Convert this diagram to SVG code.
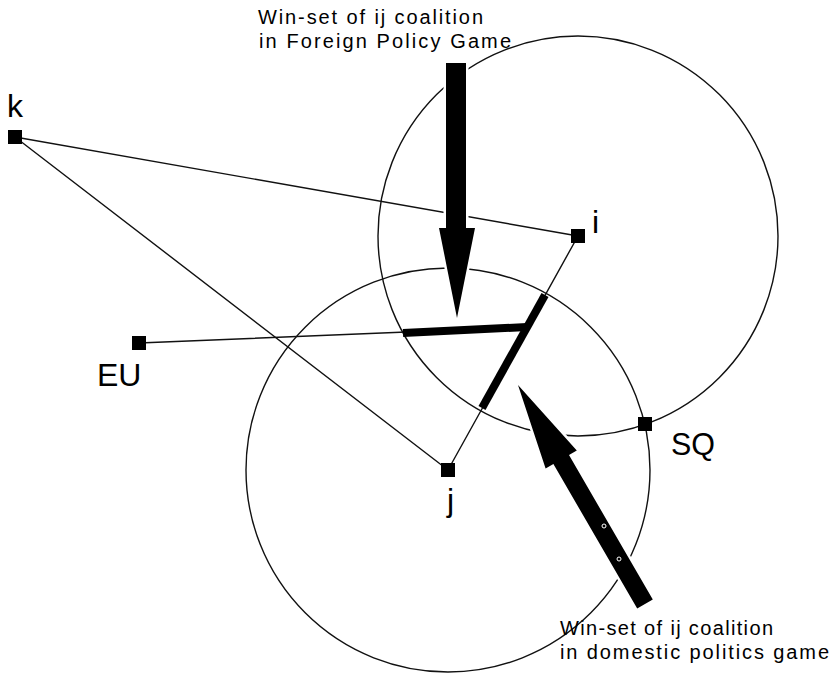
<svg xmlns="http://www.w3.org/2000/svg" width="839" height="673" viewBox="0 0 839 673">
<style>
.bg{fill:#fff}
.circ{fill:none;stroke:#111;stroke-width:1.4}
.thin{fill:none;stroke:#111;stroke-width:1.4;stroke-linecap:round}
.thick{fill:none;stroke:#000;stroke-width:8;stroke-linecap:butt}
.pt{fill:#000}
.lbl{font-family:"Liberation Sans",Arial,sans-serif;font-size:32px;fill:#000}
.note{font-family:"Liberation Sans",Arial,sans-serif;font-size:20px;fill:#000}
.arrow{fill:#000;stroke:#fff;stroke-width:5;paint-order:stroke;stroke-linejoin:miter}
.hole{fill:none;stroke:#fff;stroke-width:1}
</style>
<rect class="bg" x="0" y="0" width="839" height="673"/>
<g id="winsets">
<circle class="circ" cx="578" cy="236" r="200"/>
<circle class="circ" cx="448" cy="470" r="202"/>
</g>
<g id="connectors">
<line class="thin" x1="15" y1="137" x2="578" y2="236"/>
<line class="thin" x1="15" y1="137" x2="448" y2="470"/>
<line class="thin" x1="578" y1="236" x2="448" y2="470"/>
<line class="thin" x1="139" y1="343" x2="527" y2="327"/>
<line class="thick" x1="403" y1="333" x2="527" y2="327"/>
<line class="thick" x1="545" y1="295" x2="482" y2="408"/>
</g>
<g id="node-k">
<rect class="pt" x="8" y="130" width="14" height="14"/>
<text class="lbl" x="7" y="117">k</text>
</g>
<g id="node-i">
<rect class="pt" x="571" y="229" width="14" height="14"/>
<text class="lbl" x="592" y="233">i</text>
</g>
<g id="node-EU">
<rect class="pt" x="132" y="336" width="14" height="14"/>
<text class="lbl" x="97" y="386">EU</text>
</g>
<g id="node-j">
<rect class="pt" x="441" y="463" width="14" height="14"/>
<text class="lbl" x="447" y="511">j</text>
</g>
<g id="node-SQ">
<rect class="pt" x="638" y="417" width="14" height="14"/>
<text class="lbl" x="671" y="455" textLength="44" lengthAdjust="spacingAndGlyphs">SQ</text>
</g>
<g id="arrow-foreign">
<polygon class="arrow" points="446,63 466,63 466,228 475,228 457,318 439,228 446,228"/>
<text class="note" x="258" y="24" textLength="225" lengthAdjust="spacing">Win-set of ij coalition</text>
<text class="note" x="259" y="48" textLength="252" lengthAdjust="spacing">in Foreign Policy Game</text>
</g>
<g id="arrow-domestic">
<polygon class="arrow" points="518,385 545.6,468.5 553.4,464 637.2,608.6 652.8,599.6 569,455 576.8,450.5"/>
<circle class="hole" cx="604" cy="526" r="2"/>
<circle class="hole" cx="619" cy="559" r="2"/>
<text class="note" x="560" y="635" textLength="213" lengthAdjust="spacing">Win-set of ij coalition</text>
<text class="note" x="560" y="659" textLength="269" lengthAdjust="spacing">in domestic politics game</text>
</g>
</svg>
